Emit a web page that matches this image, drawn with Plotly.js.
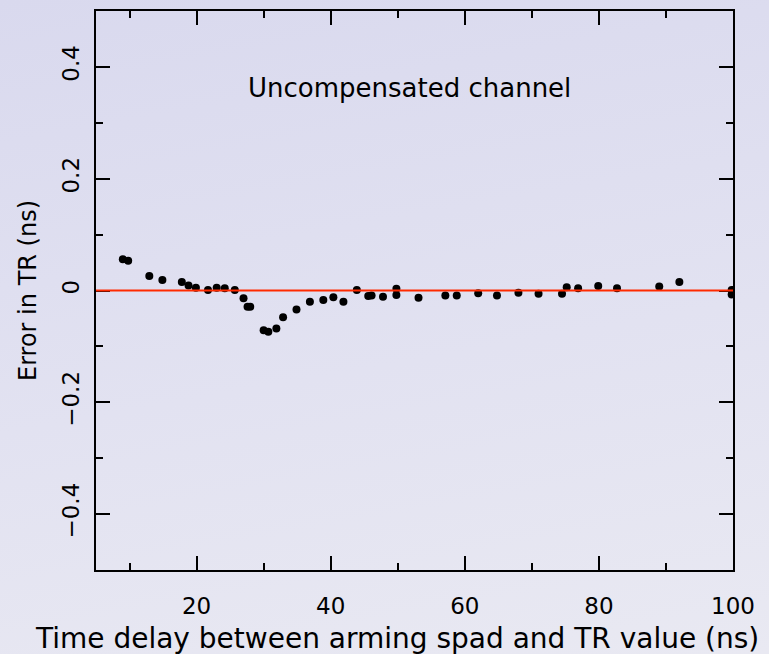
<!DOCTYPE html>
<html>
<head>
<meta charset="utf-8">
<script src="https://cdn.plot.ly/plotly-3.0.1.min.js"></script>
<style>
html,body{margin:0;padding:0;}
body{width:769px;height:654px;background:linear-gradient(170deg,#d9d9ee 0%,#e2e2f1 55%,#e9e9f2 100%);}
#chart{width:769px;height:654px;}
</style>
</head>
<body>
<div id="chart"></div>
<script>
// Time delay between arming spad and TR value (ns)
const delayNs = [9.0, 9.8, 12.95, 14.9, 17.8, 18.8, 19.9, 21.7, 23.0, 24.2, 25.7, 27.0, 27.6, 28.0,
  30.0, 30.7, 31.9, 32.9, 34.9, 36.9, 38.9, 40.4, 41.9, 43.9, 45.6, 46.1, 47.8, 49.8, 49.8,
  53.1, 57.1, 58.8, 62.0, 64.8, 68.0, 71.0, 74.5, 75.2, 76.9, 79.9, 82.7, 89.0, 92.0, 99.8, 99.8];
// Error in TR (ns)
const errorNs = [0.056, 0.053, 0.026, 0.019, 0.015, 0.009, 0.005, 0.001, 0.005, 0.004, 0.001, -0.014, -0.029, -0.029,
  -0.071, -0.074, -0.068, -0.048, -0.034, -0.020, -0.017, -0.012, -0.020, 0.001, -0.010, -0.009, -0.011, 0.003, -0.008,
  -0.013, -0.009, -0.009, -0.005, -0.009, -0.004, -0.006, -0.006, 0.006, 0.004, 0.008, 0.004, 0.007, 0.015, 0.001, -0.007];
const xTickVals = [20, 40, 60, 80, 100];
const yTickVals = [-0.4, -0.2, 0, 0.2, 0.4];
const referenceError = 0;
const annotationText = 'Uncompensated channel';
const xTitle = 'Time delay between arming spad and TR value (ns)';
const yTitle = 'Error in TR (ns)';

const font = 'DejaVu Sans, sans-serif';

const data = [{
  type: 'scatter',
  mode: 'markers',
  x: delayNs,
  y: errorNs,
  marker: {color: '#000000', size: 8, line: {width: 0}},
  hoverinfo: 'x+y'
}];

const layout = {
  width: 769, height: 654,
  margin: {l: 96, r: 36, t: 11, b: 84, pad: 0},
  paper_bgcolor: 'rgba(0,0,0,0)',
  plot_bgcolor: 'rgba(0,0,0,0)',
  showlegend: false,
  font: {family: font, color: '#000000', size: 22},
  xaxis: {
    range: [5, 100],
    tickmode: 'array', tickvals: xTickVals,
    ticks: 'inside', ticklen: 14, tickwidth: 2, tickcolor: '#000',
    minor: {dtick: 10, tick0: 0, ticks: 'inside', ticklen: 7, tickwidth: 2, tickcolor: '#000', showgrid: false},
    showline: true, linecolor: '#000', linewidth: 2, mirror: 'ticks',
    showgrid: false, zeroline: false,
    tickfont: {family: font, size: 23, color: '#000'},
    ticklabelstandoff: 14
  },
  yaxis: {
    range: [-0.5, 0.5],
    tickmode: 'array', tickvals: yTickVals,
    ticktext: ['\u22120.4', '\u22120.2', '0', '0.2', '0.4'],
    ticks: 'inside', ticklen: 14, tickwidth: 2, tickcolor: '#000',
    minor: {dtick: 0.1, tick0: 0, ticks: 'inside', ticklen: 7, tickwidth: 2, tickcolor: '#000', showgrid: false},
    showline: true, linecolor: '#000', linewidth: 2, mirror: 'ticks',
    showgrid: false, zeroline: false,
    tickangle: -90,
    tickfont: {family: font, size: 23, color: '#000'},
    ticklabelstandoff: 6,
    title: {text: yTitle, font: {family: font, size: 24, color: '#000'}, standoff: 14}
  },
  shapes: [{
    type: 'line', xref: 'paper', x0: 0, x1: 1, yref: 'y', y0: referenceError, y1: referenceError,
    line: {color: '#ff2a00', width: 2}, layer: 'above'
  }],
  annotations: [{
    text: annotationText, xref: 'x', yref: 'y', x: 51.8, y: 0.362,
    showarrow: false, font: {family: font, size: 26, color: '#000'}
  }, {
    text: xTitle, xref: 'paper', yref: 'paper', x: 0.4725, y: 0, yshift: -68,
    xanchor: 'center', yanchor: 'middle',
    showarrow: false, font: {family: font, size: 28, color: '#000'}
  }]
};

Plotly.newPlot('chart', data, layout, {displayModeBar: false, staticPlot: true});
</script>
</body>
</html>
